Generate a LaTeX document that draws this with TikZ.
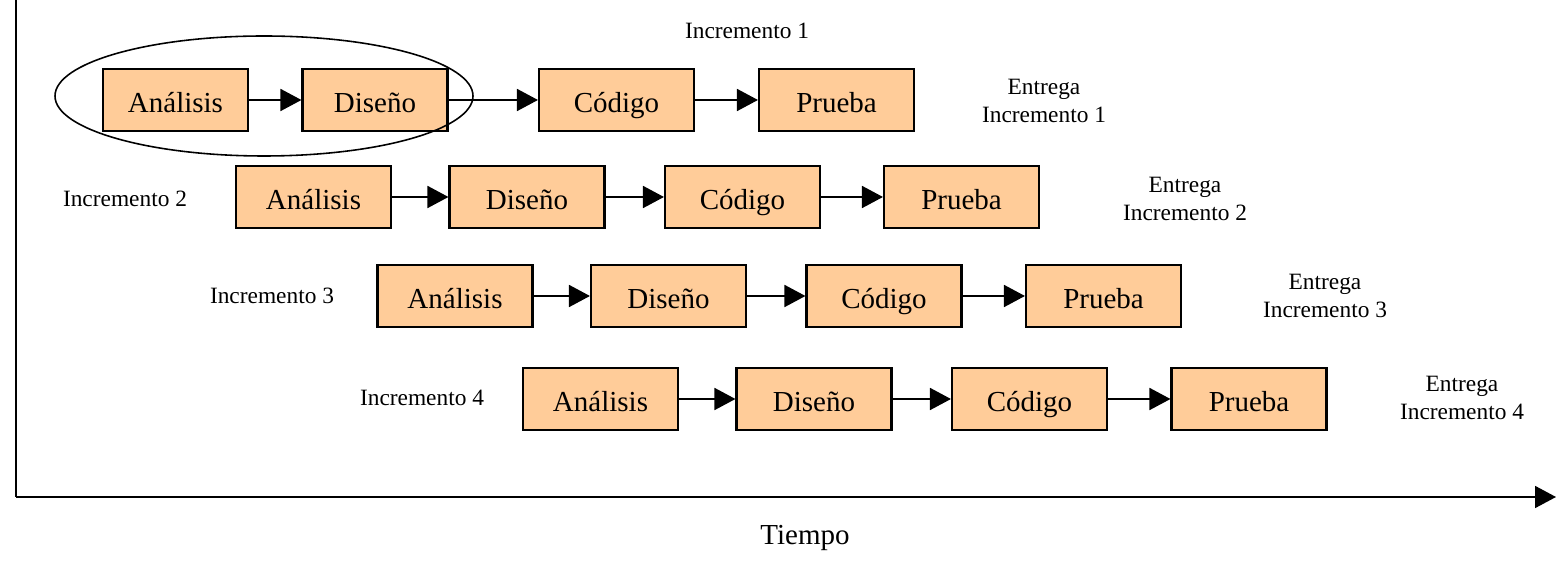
\documentclass[tikz,border=0pt]{standalone}
\usepackage{fontspec}
\setmainfont{Liberation Serif}
\usetikzlibrary{arrows.meta}

\definecolor{fase}{HTML}{FFCC99}

\begin{document}
\begin{tikzpicture}

\useasboundingbox (0,0) rectangle (31.12,-11.3);

\tikzstyle{etapa} = [draw, line width=1.2pt, fill=fase, minimum width=3.1cm, minimum height=1.24cm, inner sep=0pt, text height=14.5pt, text depth=0pt, font=\fontsize{16.5}{19}\selectfont]
\tikzstyle{rotulo} = [align=center, font=\fontsize{13.3}{15.5}\selectfont]
\tikzstyle{flecha} = [line width=1pt, -{Triangle[length=0.42cm, width=0.44cm]}]

% Incremento 1
\node[etapa, minimum width=2.9cm] (a1) at (3.51, -2.0) {Análisis};
\node[etapa, minimum width=2.9cm] (d1) at (7.5, -2.0) {Diseño};
\node[etapa] (c1) at (12.33, -2.0) {Código};
\node[etapa] (p1) at (16.73, -2.0) {Prueba};

% Incremento 2
\node[etapa] (a2) at (6.27, -3.94) {Análisis};
\node[etapa] (d2) at (10.54, -3.94) {Diseño};
\node[etapa] (c2) at (14.85, -3.94) {Código};
\node[etapa] (p2) at (19.23, -3.94) {Prueba};

% Incremento 3
\node[etapa] (a3) at (9.1, -5.92) {Análisis};
\node[etapa] (d3) at (13.37, -5.92) {Diseño};
\node[etapa] (c3) at (17.68, -5.92) {Código};
\node[etapa] (p3) at (22.07, -5.92) {Prueba};

% Incremento 4
\node[etapa] (a4) at (12.01, -7.98) {Análisis};
\node[etapa] (d4) at (16.28, -7.98) {Diseño};
\node[etapa] (c4) at (20.59, -7.98) {Código};
\node[etapa] (p4) at (24.98, -7.98) {Prueba};

\foreach \i in {1,2,3,4}
  \foreach \from/\to in {a/d, d/c, c/p}
    \draw[flecha] (\from\i) -- (\to\i);

% Textos
\node[rotulo] (inc1) at (14.94, -0.62) {Incremento 1};
\node[rotulo] (ent1) at (20.88, -2.02) {Entrega\\Incremento 1};
\node[rotulo] (inc2) at (2.5, -3.98) {Incremento 2};
\node[rotulo] (ent2) at (23.7, -3.98) {Entrega\\Incremento 2};
\node[rotulo] (inc3) at (5.44, -5.92) {Incremento 3};
\node[rotulo] (ent3) at (26.5, -5.92) {Entrega\\Incremento 3};
\node[rotulo] (inc4) at (8.44, -7.96) {Incremento 4};
\node[rotulo] (ent4) at (29.24, -7.96) {Entrega\\Incremento 4};

% Agrupacion
\draw[line width=0.9pt] (5.28, -1.92) ellipse [x radius=4.18, y radius=1.2];

% Ejes
\coordinate (arriba) at (0.32, 0);
\coordinate (origen) at (0.32, -9.94);
\coordinate (fin) at (31.12, -9.94);
\draw[line width=1pt] (arriba) -- (origen);
\draw[flecha] (origen) -- (fin);
\node[font=\fontsize{16.5}{19}\selectfont] (tiempo) at (16.1, -10.75) {Tiempo};

\end{tikzpicture}
\end{document}
